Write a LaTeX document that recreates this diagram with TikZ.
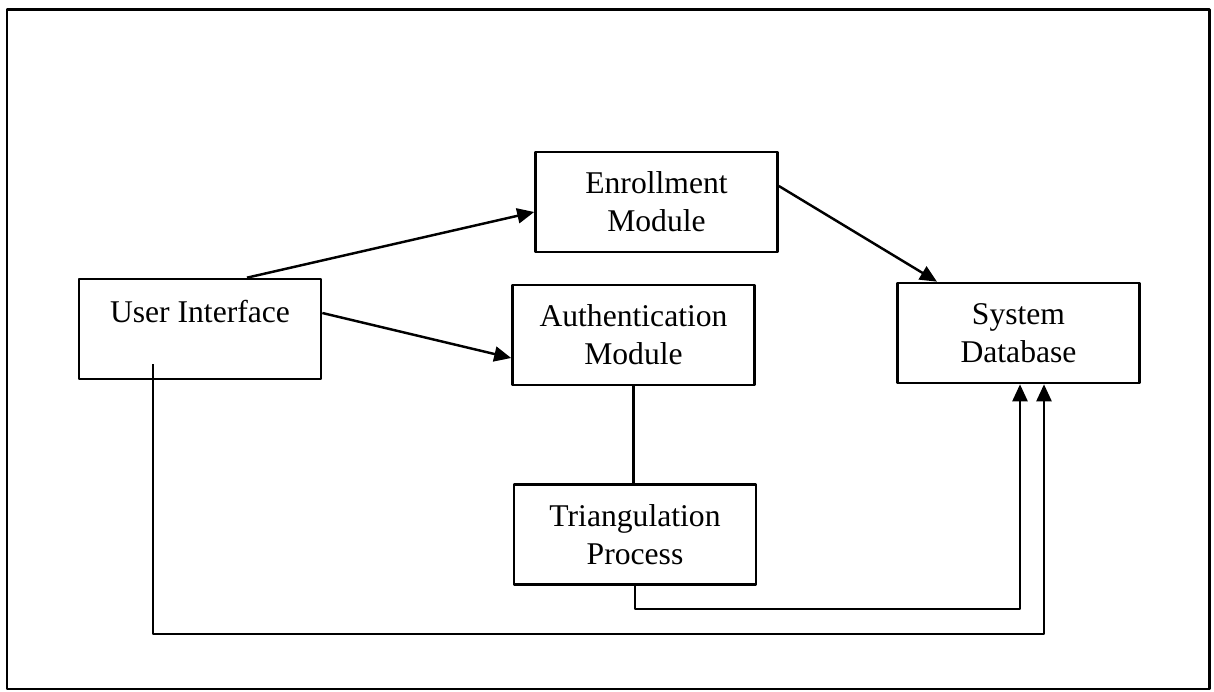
\documentclass[tikz,border=0pt]{standalone}
\usepackage{fontspec}
\setmainfont{Liberation Serif}
\usetikzlibrary{arrows.meta}
\begin{document}
\begin{tikzpicture}[line join=round, >={Triangle[length=0.34cm,width=0.3cm]},
	font=\fontsize{18}{21.6}\selectfont,
	box/.style={draw, line width=1.5pt, minimum width=4.84cm, minimum height=2cm, inner sep=0pt, align=center},
	link/.style={line width=1.4pt}]
	\useasboundingbox (0,0) rectangle (24.28,-13.84);
	\draw[line width=1.7pt](0.14,-0.2) rectangle (24.18,-13.78);
	\path
	(4,-6.58)node[box, text height=0.88cm, text depth=1.12cm](ui){User Interface}
	(13.13,-4.04)node[box](enr){Enrollment\\Module}
	(12.67,-6.7)node[box](auth){Authentication\\Module}
	(12.7,-10.69)node[box](tri){Triangulation\\Process}
	(20.37,-6.66)node[box](db){System\\Database}
	;
	\coordinate (tj) at (20.4,-12.18);
	\coordinate (uj) at (20.88,-12.68);
	\draw[->, link]([xshift=0.94cm]ui.north)--([yshift=-0.2cm]enr.west);
	\draw[->, link]([yshift=0.32cm]ui.east)--([yshift=-0.46cm]auth.west);
	\draw[->, link]([yshift=0.32cm]enr.east)--([xshift=-1.63cm]db.north);
	\draw[link](auth.south)--(auth.south |- tri.north);
	\draw[->, link](tri.south) |- (tj) -- (tj |- db.south);
	\draw[->, link]([xshift=-0.94cm,yshift=0.32cm]ui.south) |- (uj) -- (uj |- db.south);
\end{tikzpicture}
\end{document}
